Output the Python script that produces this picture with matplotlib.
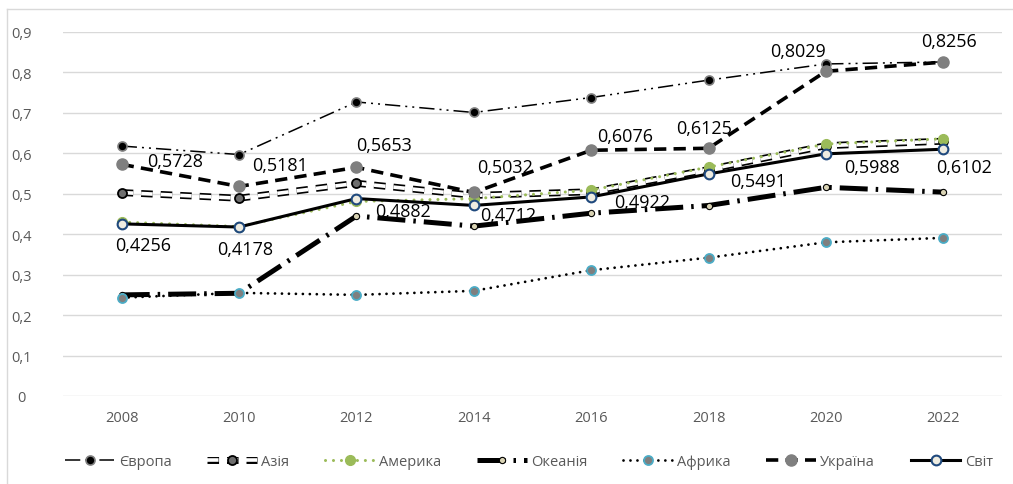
import numpy as np
import matplotlib
matplotlib.use('Agg')
import matplotlib.pyplot as plt
import matplotlib.patheffects as pe
from matplotlib.lines import Line2D

plt.rcParams['font.family'] = ['Open Sans', 'DejaVu Sans']

# дані
years = ['2008', '2010', '2012', '2014', '2016', '2018', '2020', '2022']
europe = [0.618, 0.597, 0.727, 0.701, 0.738, 0.781, 0.821, 0.826]
asia = [0.503, 0.489, 0.526, 0.496, 0.505, 0.560, 0.619, 0.630]
america = [0.430, 0.419, 0.481, 0.488, 0.509, 0.566, 0.623, 0.636]
oceania = [0.250, 0.254, 0.445, 0.420, 0.452, 0.471, 0.516, 0.504]
africa = [0.243, 0.255, 0.250, 0.260, 0.311, 0.342, 0.380, 0.391]
ukraine = [0.5728, 0.5181, 0.5653, 0.5032, 0.6076, 0.6125, 0.8029, 0.8256]
world = [0.4256, 0.4178, 0.4882, 0.4712, 0.4922, 0.5491, 0.5988, 0.6102]

# зсуви підписів (пікселі)
ukr_offsets = [(53, 3), (41, 21), (28, 22), (31, 25), (34, 14), (-5, 20), (-28, 20), (6, 21)]
world_offsets = [(21, -21), (6, -22), (47, -12), (34, -10), (51, -5), (50, -7), (46, -13), (21, -18)]

x = np.arange(len(years))

fig = plt.figure(figsize=(10.13, 4.85), dpi=100)
ax = fig.add_axes([63/1013, 1 - 397/485, (1002-63)/1013, (397-33)/485])

h_eu, = ax.plot(x, europe, color='black', lw=1.1, linestyle=(0, (10, 3.3, 1.3, 3.3, 1.3, 3.3)),
                marker='o', ms=6.5, mfc='black', mec='#7f7f7f', mew=1.2, zorder=3)

# Азія: подвійна лінія (білий штрих з чорним контуром)
h_as_line, = ax.plot(x, asia, color='white', lw=2.6, linestyle=(0, (3.2, 2.2)), zorder=4,
                     path_effects=[pe.Stroke(linewidth=5.0, foreground='black'), pe.Normal()])
h_as_mk, = ax.plot(x, asia, linestyle='none', marker='o', ms=6.5, mfc='#6e6e6e', mec='black',
                   mew=1.3, zorder=4)

h_am, = ax.plot(x, america, color='#9BBB59', lw=2.2, linestyle=(0, (0.01, 2.6)), dash_capstyle='round',
                marker='o', ms=7, mfc='#9BBB59', mec='#9BBB59', zorder=5)

h_oc, = ax.plot(x, oceania, color='black', lw=3.6, linestyle=(0, (5.6, 1.6, 0.5, 1.6)),
                marker='o', ms=4.5, mfc='#D9D3B4', mec='black', mew=0.8, zorder=5)

h_af, = ax.plot(x, africa, color='black', lw=2, linestyle=(0, (0.01, 2.5)), dash_capstyle='round',
                marker='o', ms=6.5, mfc='#7f7f7f', mec='#4BACC6', mew=1.3, zorder=5)

h_ua, = ax.plot(x, ukraine, color='black', lw=2.6, linestyle=(0, (3.4, 2)),
                marker='o', ms=8, mfc='#7f7f7f', mec='#7f7f7f', zorder=6)

h_w, = ax.plot(x, world, color='black', lw=2.2, linestyle='-',
               marker='o', ms=7, mfc='#EEECE1', mec='#1F497D', mew=1.5, zorder=7)

# підписи значень
for i, v in enumerate(ukraine):
    ax.annotate(f'{v:.4f}'.replace('.', ','), (x[i], v), xytext=ukr_offsets[i],
                textcoords='offset pixels', ha='center', va='center', fontsize=13,
                color='black', zorder=10)
for i, v in enumerate(world):
    ax.annotate(f'{v:.4f}'.replace('.', ','), (x[i], v), xytext=world_offsets[i],
                textcoords='offset pixels', ha='center', va='center', fontsize=13,
                color='black', zorder=10)

ax.set_xlim(-0.5, len(years) - 0.5)
ax.set_ylim(0, 0.9)
ax.set_xticks(x)
ax.set_xticklabels(years)
yt = np.arange(0, 0.91, 0.1)
ax.set_yticks(yt)
ax.set_yticklabels([f'{t:.1f}'.replace('.', ',') if t > 0 else '0' for t in yt])
ax.tick_params(axis='both', length=0, labelsize=10.5, colors='#595959')
ax.tick_params(axis='x', pad=10)
ax.tick_params(axis='y', pad=30)
for lbl in ax.get_yticklabels():
    lbl.set_horizontalalignment('center')
ax.grid(axis='y', color='#d9d9d9', lw=1)
ax.set_axisbelow(True)
for s in ax.spines.values():
    s.set_visible(False)

handles = [h_eu, (h_as_line, h_as_mk), h_am, h_oc, h_af, h_ua, h_w]
labels = ['Європа', 'Азія', 'Америка', 'Океанія', 'Африка', 'Україна', 'Світ']
leg = fig.legend(handles, labels, loc='center', bbox_to_anchor=(0.522, 1 - 463/485), ncol=7,
                 frameon=False, fontsize=10.5, handlelength=3.4, columnspacing=2.45,
                 handletextpad=0.3)
for t in leg.get_texts():
    t.set_color('#595959')

# рамка діаграми
fig.add_artist(Line2D([7/1013, 7/1013], [0, 1 - 10/485], color='#d9d9d9', lw=1))
fig.add_artist(Line2D([7/1013, 1], [1 - 10/485, 1 - 10/485], color='#d9d9d9', lw=1))

fig.savefig('out.png', dpi=100)
